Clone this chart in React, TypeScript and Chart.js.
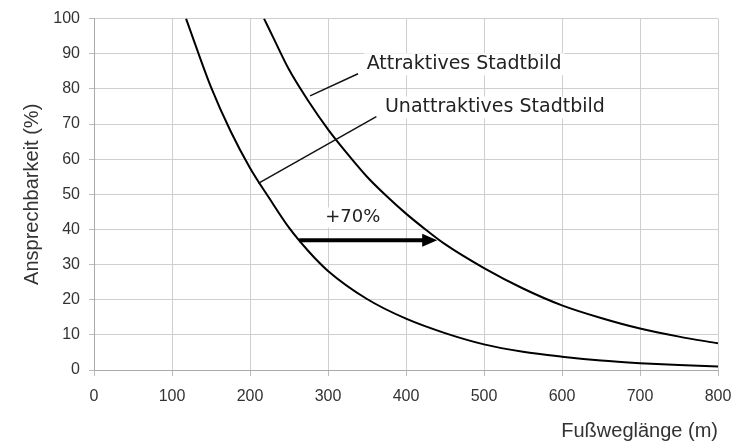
import { useEffect, useRef } from "react";
import { Chart, registerables } from "chart.js";

Chart.register(...registerables);

// Unattraktives Stadtbild (lower curve)
const unattrDist = [118, 130, 150, 175, 200, 225, 250, 275, 300, 350, 400, 450, 500, 550, 600, 650, 700, 750, 800];
const unattrPct = [100, 92.5, 80.5, 68, 57.5, 48.8, 40.5, 33.8, 28.2, 20.2, 14.6, 10.5, 7.3, 5.2, 3.8, 2.7, 1.95, 1.4, 1.0];

// Attraktives Stadtbild (upper curve)
const attrDist = [218, 230, 250, 275, 300, 325, 350, 375, 400, 425, 450, 500, 550, 600, 650, 700, 750, 800];
const attrPct = [100, 94.5, 85.5, 76.5, 68.5, 61.5, 55, 49.5, 44.5, 40, 35.8, 29, 23.2, 18.4, 14.8, 11.8, 9.5, 7.6];

const xTitle = "Fußweglänge (m)";
const yTitle = "Ansprechbarkeit (%)";

// annotation labels (data coordinates)
const labelTexts = ["Attraktives Stadtbild", "Unattraktives Stadtbild"];
const labelX = [349.6, 373];
const labelY = [87, 74.7];
const leaderStartX = [277, 210.6];
const leaderStartY = [78, 53.1];
const leaderEndX = [338.5, 362];
const leaderEndY = [84.3, 72.1];

// arrow (data coordinates)
const arrowFrom = [263, 36.9];
const arrowTo = [440, 36.9];
const arrowText = "+70%";
const arrowTextPos = [331.7, 43.4];

const annotPlugin = {
  id: "annot",
  afterDatasetsDraw(chart: any) {
    const { ctx, scales } = chart;
    const px = (v: number) => scales.x.getPixelForValue(v);
    const py = (v: number) => scales.y.getPixelForValue(v);
    ctx.save();
    ctx.strokeStyle = "#111";
    ctx.lineWidth = 1.5;
    for (let i = 0; i < leaderStartX.length; i++) {
      ctx.beginPath();
      ctx.moveTo(px(leaderStartX[i]), py(leaderStartY[i]));
      ctx.lineTo(px(leaderEndX[i]), py(leaderEndY[i]));
      ctx.stroke();
    }
    ctx.font = '19px "DejaVu Sans"';
    ctx.textBaseline = "middle";
    ctx.textAlign = "left";
    for (let i = 0; i < labelTexts.length; i++) {
      const x0 = px(labelX[i]);
      const y0 = py(labelY[i]);
      const w = ctx.measureText(labelTexts[i]).width;
      ctx.fillStyle = "#fff";
      ctx.fillRect(x0 - 3, y0 - 11, w + 6, 22);
      ctx.fillStyle = "#222";
      ctx.fillText(labelTexts[i], x0, y0);
    }
    const ax0 = px(arrowFrom[0]);
    const ay = py(arrowFrom[1]);
    const ax1 = px(arrowTo[0]);
    ctx.strokeStyle = "#000";
    ctx.lineWidth = 4;
    ctx.beginPath();
    ctx.moveTo(ax0, ay);
    ctx.lineTo(ax1 - 12, ay);
    ctx.stroke();
    ctx.fillStyle = "#000";
    ctx.beginPath();
    ctx.moveTo(ax1, ay);
    ctx.lineTo(ax1 - 15, ay - 6.5);
    ctx.lineTo(ax1 - 15, ay + 6.5);
    ctx.closePath();
    ctx.fill();
    ctx.font = '18px "DejaVu Sans"';
    ctx.textAlign = "center";
    const tx = px(arrowTextPos[0]);
    const ty = py(arrowTextPos[1]);
    const tw = ctx.measureText(arrowText).width;
    ctx.fillStyle = "#fff";
    ctx.fillRect(tx - tw / 2 - 3, ty - 10, tw + 6, 20);
    ctx.fillStyle = "#222";
    ctx.fillText(arrowText, tx, ty);
    ctx.restore();
  },
};

export default function App() {
  const canvasRef = useRef<HTMLCanvasElement | null>(null);

  useEffect(() => {
    document.body.style.margin = "0";
    const canvas = canvasRef.current;
    if (!canvas) return;
    const toPts = (xs: number[], ys: number[]) => xs.map((x, i) => ({ x, y: ys[i] }));
    const chart = new Chart(canvas, {
      type: "scatter",
      data: {
        datasets: [
          {
            label: "Unattraktives Stadtbild",
            data: toPts(unattrDist, unattrPct),
            showLine: true,
            borderColor: "#000",
            borderWidth: 2,
            pointRadius: 0,
            cubicInterpolationMode: "monotone",
          },
          {
            label: "Attraktives Stadtbild",
            data: toPts(attrDist, attrPct),
            showLine: true,
            borderColor: "#000",
            borderWidth: 2,
            pointRadius: 0,
            cubicInterpolationMode: "monotone",
          },
        ],
      },
      options: {
        responsive: false,
        animation: false,
        devicePixelRatio: 1,
        layout: { padding: { top: 15, right: 31, left: 0, bottom: 0 } },
        plugins: {
          legend: { display: false },
          tooltip: { enabled: false },
        },
        scales: {
          x: {
            type: "linear",
            min: 0,
            max: 800,
            afterFit: (s: any) => {
              s.height = 76;
            },
            ticks: {
              stepSize: 100,
              padding: 11,
              color: "#333",
              font: { family: "'Liberation Sans', Arial, sans-serif", size: 16 },
            },
            grid: { color: "#cfcfcf", tickLength: 6, tickColor: "#bbb" },
            border: { display: true, color: "#aaa" },
            title: {
              display: true,
              text: xTitle,
              align: "end",
              color: "#333",
              padding: { top: 0, bottom: 3 },
              font: { family: "'Liberation Sans', Arial, sans-serif", size: 20 },
            },
          },
          y: {
            type: "linear",
            min: 0,
            max: 100,
            afterFit: (s: any) => {
              s.width = 94;
            },
            ticks: {
              stepSize: 10,
              padding: 9,
              color: "#333",
              font: { family: "'Liberation Sans', Arial, sans-serif", size: 16 },
            },
            grid: { color: "#cfcfcf", tickLength: 5, tickColor: "#bbb" },
            border: { display: true, color: "#aaa" },
            title: {
              display: true,
              text: yTitle,
              color: "#333",
              padding: { top: 20, bottom: 0 },
              font: { family: "'Liberation Sans', Arial, sans-serif", size: 20 },
            },
          },
        },
      },
      plugins: [annotPlugin],
    } as any);
    return () => chart.destroy();
  }, []);

  return (
    <div style={{ width: 749, height: 446 }}>
      <canvas ref={canvasRef} width={749} height={446} />
    </div>
  );
}
